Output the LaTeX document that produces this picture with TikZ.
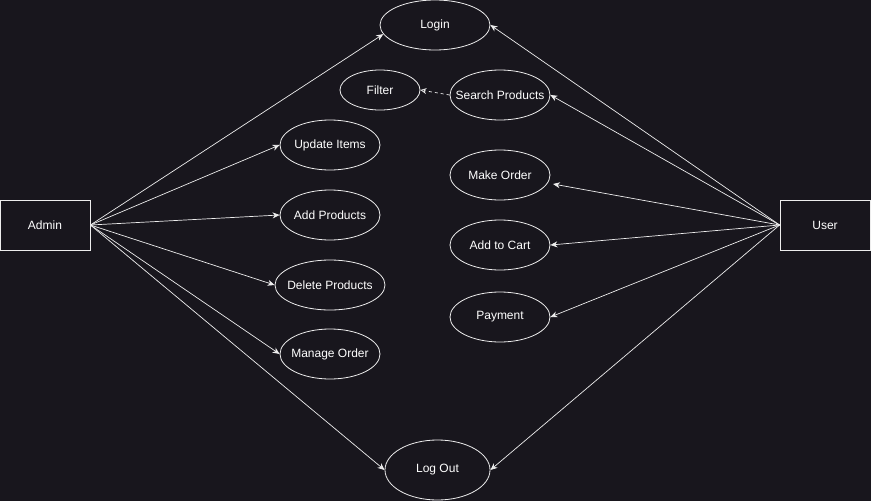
\documentclass[tikz,border=0pt]{standalone}
\usepackage{fontspec}
\setmainfont{Liberation Sans}
\usetikzlibrary{shapes.geometric,arrows.meta}
\definecolor{bgdark}{HTML}{18161D}
\definecolor{linegray}{HTML}{EDEDED}
\newcommand{\uclabel}[1]{\makebox[0pt]{#1}}
\tikzset{
    actor/.style={draw=linegray,line width=0.8pt,fill=bgdark,minimum width=90pt,minimum height=50pt,inner sep=0pt,text=white},
    usecase/.style={draw=linegray,line width=0.8pt,ellipse,fill=bgdark,minimum width=100pt,minimum height=50pt,inner sep=0pt,text=white},
    link/.style={draw=linegray,line width=0.7pt,-{Stealth[length=7pt,width=6pt]}},
}
\begin{document}
\begin{tikzpicture}[x=1pt,y=-1pt,font=\fontsize{12}{14}\selectfont]
    \fill[bgdark] (0,0) rectangle (871,501);
    \useasboundingbox (0,0) rectangle (871,501);
    \node[actor](admin) at (45,225) {Admin};
    \node[actor](user) at (825,225) {User};
    \node[usecase,minimum width=110pt](login) at (435,25) {\uclabel{Login}};
    \node[usecase,minimum width=80pt,minimum height=40pt](filter) at (380,90) {\uclabel{Filter}};
    \node[usecase](search) at (500,95) {\uclabel{Search Products}};
    \node[usecase](update) at (330,145) {\uclabel{Update Items}};
    \node[usecase](addprod) at (330,215) {\uclabel{Add Products}};
    \node[usecase,minimum width=110pt](delete) at (330,285) {\uclabel{Delete Products}};
    \node[usecase](manage) at (330,354) {\uclabel{Manage Order}};
    \node[usecase](makeorder) at (500,175) {\uclabel{Make Order}};
    \node[usecase](cart) at (500,245) {\uclabel{Add to Cart}};
    \node[usecase](payment) at (500,317) {\uclabel{Payment}};
    \node[usecase,minimum width=105pt,minimum height=60pt](logout) at (437.5,470) {\uclabel{Log Out}};
    \coordinate (makeorderend) at (553,184);
    % admin side
    \draw[link] (admin.east) -- (login.190);
    \draw[link] (admin.east) -- (update.west);
    \draw[link] (admin.east) -- (addprod.west);
    \draw[link] (admin.east) -- (delete.west);
    \draw[link] (admin.east) -- (manage.west);
    \draw[link] (admin.east) -- (logout.west);
    % user side
    \draw[link] (user.west) -- (login.east);
    \draw[link] (user.west) -- (search.east);
    \draw[link] (user.west) -- (makeorderend);
    \draw[link] (user.west) -- (cart.east);
    \draw[link] (user.west) -- (payment.east);
    \draw[link] (user.west) -- (logout.east);
    \draw[draw=linegray,line width=0.7pt,dashed,-{Stealth[open,length=6pt,width=6pt]}] (search.west) -- (filter.east);
\end{tikzpicture}
\end{document}
